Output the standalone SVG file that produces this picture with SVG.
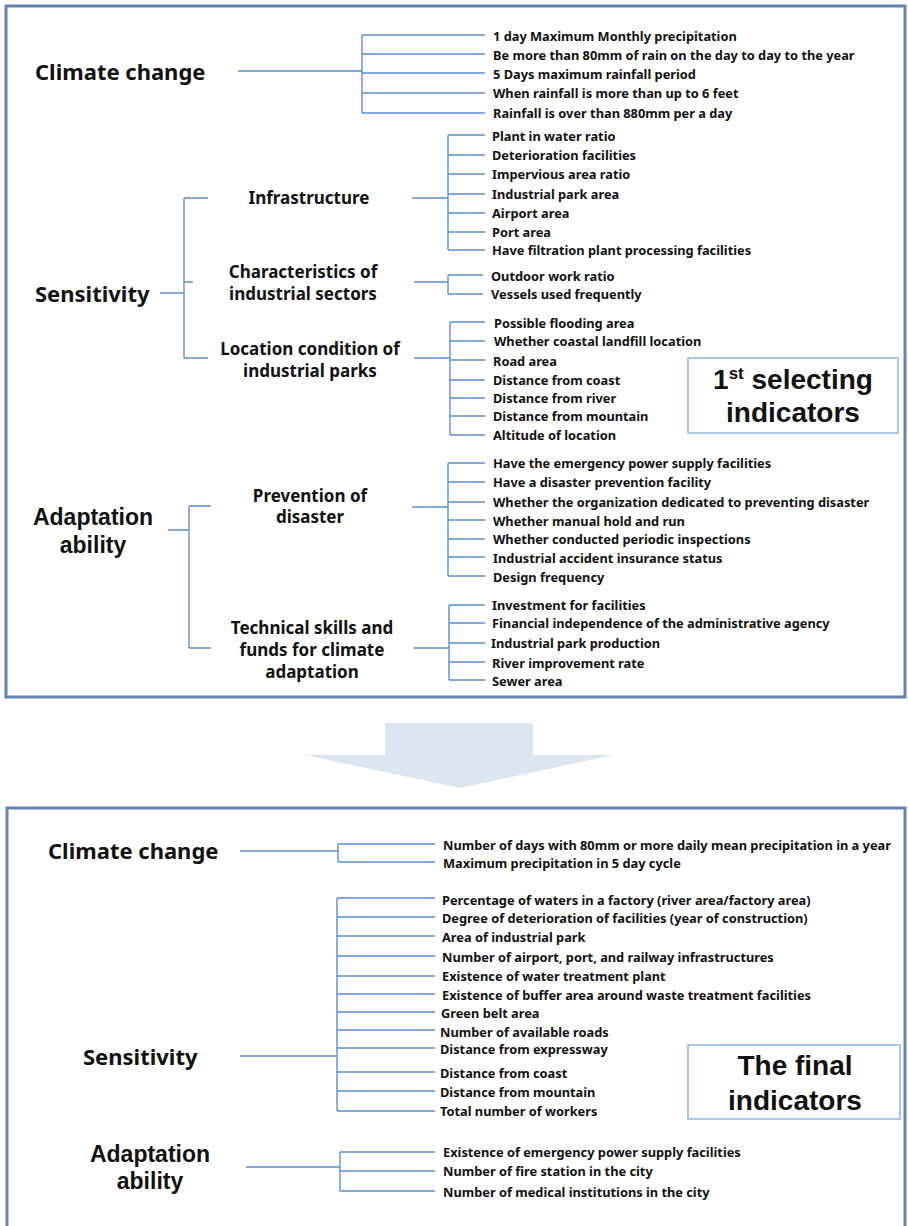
<svg xmlns="http://www.w3.org/2000/svg" width="908" height="1226" viewBox="0 0 908 1226">
<style>
text{font-family:"Noto Sans","Open Sans","Liberation Sans",sans-serif;font-weight:700;fill:#111}
.big{font-size:22px}
.big2{font-size:23px;font-family:"Liberation Sans",Arial,sans-serif}
.mid{font-size:17px}
.it{font-size:12.8px}
.box{font-size:28px;font-family:"Liberation Sans",Arial,sans-serif}
.c{text-anchor:middle}
.ln{stroke:#5b8fd6;stroke-width:1.4;fill:none}
.panel{fill:none;stroke:#6584b4;stroke-width:3}
.lbox{fill:#fff;stroke:#8eb4e3;stroke-width:1.5}
</style>
<rect x="0" y="0" width="908" height="1226" fill="#fff"/>
<rect class="panel" x="6" y="6" width="899" height="691"/>
<rect class="panel" x="7" y="808" width="898" height="440"/>
<polygon id="arrow" points="385,723 533,723 533,755 613,755 460,788 305,755 385,755" fill="#dce6f2"/>

<g id="connectors" class="ln">
<path d="M238,71H362M362,35V113M362,35H485M362,54H485M362,73H485M362,93H485M362,113H485"/>
<path d="M160,293H184M184,198V358M184,198H208M184,282H193M184,358H208"/>
<path d="M412,198H448M448,135V250M448,135H485M448,155H485M448,174H485M448,194H485M448,213H485M448,232H485M448,250H485"/>
<path d="M414,282H448M448,275V294M448,275H483M448,294H483"/>
<path d="M414,358H450M450,322V435M450,322H485M450,341H485M450,360H485M450,380H485M450,398H485M450,416H485M450,435H485"/>
<path d="M168,530H189M189,506V648M189,506H211M189,648H211"/>
<path d="M412,507H448M448,463V576M448,463H485M448,482H485M448,502H485M448,520H485M448,539H485M448,557H485M448,576H485"/>
<path d="M414,648H449M449,605V680M449,605H485M449,623H485M449,643H485M449,662H485M449,680H485"/>
<path d="M240,851H338M338,844V862M338,844H435M338,862H435"/>
<path d="M240,1056H337M337,898V1111M337,898H435M337,917H435M337,936H435M337,956H435M337,976H435M337,994H435M337,1012H435M337,1030H435M337,1048H435M337,1072H435M337,1091H435M337,1111H435"/>
<path d="M246,1167H340M340,1152V1191M340,1152H435M340,1171H435M340,1191H435"/>
</g>

<g id="top-climate">
<text class="big" x="35" y="80">Climate change</text>
<text class="it" x="493" y="41">1 day Maximum Monthly precipitation</text>
<text class="it" x="493" y="60">Be more than 80mm of rain on the day to day to the year</text>
<text class="it" x="493" y="79">5 Days maximum rainfall period</text>
<text class="it" x="493" y="98">When rainfall is more than up to 6 feet</text>
<text class="it" x="493" y="118">Rainfall is over than 880mm per a day</text>
</g>
<g id="top-sensitivity">
<text class="big" x="35" y="302">Sensitivity</text>
</g>
<g id="infrastructure">
<text class="mid c" x="309" y="204">Infrastructure</text>
<text class="it" x="492" y="141">Plant in water ratio</text>
<text class="it" x="492" y="160">Deterioration facilities</text>
<text class="it" x="492" y="179">Impervious area ratio</text>
<text class="it" x="492" y="199">Industrial park area</text>
<text class="it" x="492" y="218">Airport area</text>
<text class="it" x="492" y="237">Port area</text>
<text class="it" x="492" y="255">Have filtration plant processing facilities</text>
</g>
<g id="characteristics">
<text class="mid c"><tspan x="303" y="278">Characteristics of</tspan><tspan x="303" y="300">industrial sectors</tspan></text>
<text class="it" x="491" y="281">Outdoor work ratio</text>
<text class="it" x="491" y="299">Vessels used frequently</text>
</g>
<g id="location">
<text class="mid c"><tspan x="310" y="355">Location condition of</tspan><tspan x="310" y="377">industrial parks</tspan></text>
<text class="it" x="494" y="328">Possible flooding area</text>
<text class="it" x="494" y="346">Whether coastal landfill location</text>
<text class="it" x="493" y="366">Road area</text>
<text class="it" x="493" y="385">Distance from coast</text>
<text class="it" x="493" y="403">Distance from river</text>
<text class="it" x="493" y="421">Distance from mountain</text>
<text class="it" x="493" y="440">Altitude of location</text>
</g>
<g id="first-box">
<rect class="lbox" x="688" y="358" width="210" height="75"/>
<text class="box c"><tspan x="793" y="389">1</tspan><tspan font-size="17" dy="-10">st</tspan><tspan dy="10"> selecting</tspan><tspan x="793" y="422">indicators</tspan></text>
</g>
<g id="top-adaptation">
<text class="big2 c"><tspan x="93" y="525">Adaptation</tspan><tspan x="93" y="553">ability</tspan></text>
</g>
<g id="prevention">
<text class="mid c"><tspan x="310" y="502">Prevention of</tspan><tspan x="310" y="523">disaster</tspan></text>
<text class="it" x="493" y="468">Have the emergency power supply facilities</text>
<text class="it" x="493" y="487">Have a disaster prevention facility</text>
<text class="it" x="493" y="507">Whether the organization dedicated to preventing disaster</text>
<text class="it" x="493" y="526">Whether manual hold and run</text>
<text class="it" x="493" y="544">Whether conducted periodic inspections</text>
<text class="it" x="493" y="563">Industrial accident insurance status</text>
<text class="it" x="493" y="582">Design frequency</text>
</g>
<g id="technical">
<text class="mid c"><tspan x="312" y="634">Technical skills and</tspan><tspan x="312" y="656">funds for climate</tspan><tspan x="312" y="678">adaptation</tspan></text>
<text class="it" x="492" y="610">Investment for facilities</text>
<text class="it" x="492" y="628">Financial independence of the administrative agency</text>
<text class="it" x="491" y="648">Industrial park production</text>
<text class="it" x="492" y="668">River improvement rate</text>
<text class="it" x="492" y="686">Sewer area</text>
</g>

<g id="final-climate">
<text class="big" x="48" y="859">Climate change</text>
<text class="it" x="443" y="850">Number of days with 80mm or more daily mean precipitation in a year</text>
<text class="it" x="443" y="868">Maximum precipitation in 5 day cycle</text>
</g>
<g id="final-sensitivity">
<text class="big" x="83" y="1065">Sensitivity</text>
<text class="it" x="442" y="905">Percentage of waters in a factory (river area/factory area)</text>
<text class="it" x="442" y="923">Degree of deterioration of facilities (year of construction)</text>
<text class="it" x="442" y="942">Area of industrial park</text>
<text class="it" x="442" y="962">Number of airport, port, and railway infrastructures</text>
<text class="it" x="442" y="981">Existence of water treatment plant</text>
<text class="it" x="442" y="1000">Existence of buffer area around waste treatment facilities</text>
<text class="it" x="441" y="1018">Green belt area</text>
<text class="it" x="440" y="1037">Number of available roads</text>
<text class="it" x="440" y="1054">Distance from expressway</text>
<text class="it" x="440" y="1078">Distance from coast</text>
<text class="it" x="440" y="1097">Distance from mountain</text>
<text class="it" x="440" y="1116">Total number of workers</text>
</g>
<g id="final-box">
<rect class="lbox" x="688" y="1045" width="212" height="74"/>
<text class="box c"><tspan x="795" y="1075">The final</tspan><tspan x="795" y="1110">indicators</tspan></text>
</g>
<g id="final-adaptation">
<text class="big2 c"><tspan x="150" y="1162">Adaptation</tspan><tspan x="150" y="1189">ability</tspan></text>
<text class="it" x="443" y="1157">Existence of emergency power supply facilities</text>
<text class="it" x="443" y="1176">Number of fire station in the city</text>
<text class="it" x="443" y="1197">Number of medical institutions in the city</text>
</g>
</svg>
